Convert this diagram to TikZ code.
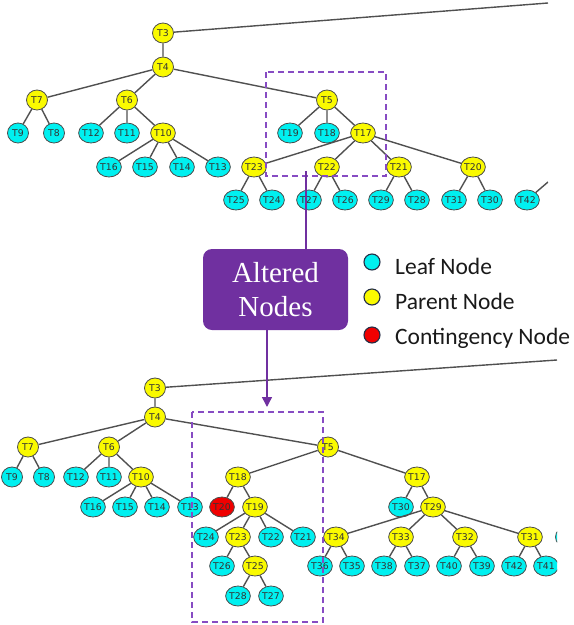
\documentclass[tikz,border=0pt]{standalone}
\usepackage{fontspec}
\usetikzlibrary{shapes.geometric,arrows.meta}
\newfontfamily\lblfont{DejaVu Sans}
\newfontfamily\legfont{Carlito}
\newfontfamily\boxfont{Liberation Serif}
\definecolor{leafc}{RGB}{0,240,240}
\definecolor{parc}{RGB}{250,250,0}
\definecolor{contc}{RGB}{240,0,0}
\definecolor{nodeline}{RGB}{75,75,75}
\definecolor{edgec}{RGB}{80,80,80}
\definecolor{dashc}{RGB}{135,75,195}
\definecolor{boxc}{RGB}{112,48,160}
\definecolor{legline}{RGB}{35,45,70}
\tikzset{
  tn/.style={ellipse,draw=nodeline,line width=0.8pt,minimum width=21pt,minimum height=20pt,
    inner sep=0pt,font=\lblfont\fontsize{9.3}{10}\selectfont,text=black!80},
  leaf/.style={tn,fill=leafc},
  par/.style={tn,fill=parc},
  cont/.style={tn,fill=contc},
  edge/.style={draw=edgec,line width=1.4pt},
  altbox/.style={dashc,line width=1.5pt,dash pattern=on 6pt off 4pt},
  legdot/.style={circle,draw=legline,line width=1.1pt,minimum size=16pt,inner sep=0pt},
  legtxt/.style={anchor=west,inner sep=0pt,text=black!90,font=\legfont\fontsize{23.5}{28}\selectfont},
  link/.style={draw=boxc,line width=1.5pt}
}
\begin{document}
\begin{tikzpicture}[x=1pt,y=-1pt]
\useasboundingbox (0,0) rectangle (574,625);

% ---------------- upper tree ----------------
\begin{scope}
\clip (0,0) rectangle (548,625);
\node[par]  (a3)  at (163,33)  {T3};
\node[par]  (a4)  at (163,67)  {T4};
\node[par]  (a7)  at (37,100)  {T7};
\node[par]  (a6)  at (127,100) {T6};
\node[par]  (a5)  at (327,100) {T5};
\node[leaf] (a9)  at (18,133)  {T9};
\node[leaf] (a8)  at (54,133)  {T8};
\node[leaf] (a12) at (91,133)  {T12};
\node[leaf] (a11) at (127,133) {T11};
\node[par]  (a10) at (163,133) {T10};
\node[leaf] (a19) at (290,133) {T19};
\node[leaf] (a18) at (327,133) {T18};
\node[par]  (a17) at (363,133) {T17};
\node[leaf] (a16) at (109,167) {T16};
\node[leaf] (a15) at (145,167) {T15};
\node[leaf] (a14) at (182,167) {T14};
\node[leaf] (a13) at (218,167) {T13};
\node[par]  (a23) at (254,167) {T23};
\node[par]  (a22) at (327,167) {T22};
\node[par]  (a21) at (399,167) {T21};
\node[par]  (a20) at (473,167) {T20};
\node[leaf] (a25) at (236,200) {T25};
\node[leaf] (a24) at (272,200) {T24};
\node[leaf] (a27) at (309,200) {T27};
\node[leaf] (a26) at (345,200) {T26};
\node[leaf] (a29) at (381,200) {T29};
\node[leaf] (a28) at (417,200) {T28};
\node[leaf] (a31) at (454,200) {T31};
\node[leaf] (a30) at (490,200) {T30};
\node[leaf] (a42) at (527,200) {T42};
\coordinate (a3out)  at (548,3);
\coordinate (a42out) at (548,182);
\draw[edge] (a3)--(a4) (a3)--(a3out);
\draw[edge] (a4)--(a7) (a4)--(a6) (a4)--(a5);
\draw[edge] (a7)--(a9) (a7)--(a8);
\draw[edge] (a6)--(a12) (a6)--(a11) (a6)--(a10);
\draw[edge] (a10)--(a16) (a10)--(a15) (a10)--(a14) (a10)--(a13);
\draw[edge] (a5)--(a19) (a5)--(a18) (a5)--(a17);
\draw[edge] (a17)--(a23) (a17)--(a22) (a17)--(a21) (a17)--(a20);
\draw[edge] (a23)--(a25) (a23)--(a24);
\draw[edge] (a22)--(a27) (a22)--(a26);
\draw[edge] (a21)--(a29) (a21)--(a28);
\draw[edge] (a20)--(a31) (a20)--(a30);
\draw[edge] (a42)--(a42out);
\end{scope}
\draw[altbox] (266,72) rectangle (386,176);

% ---------------- lower tree ----------------
\begin{scope}
\clip (0,0) rectangle (557,625);
\node[par]  (b3)  at (155,388) {T3};
\node[par]  (b4)  at (155,417) {T4};
\node[par]  (b7)  at (28,447)  {T7};
\node[par]  (b6)  at (109,447) {T6};
\node[par]  (b5)  at (328,447) {T5};
\node[leaf] (b9)  at (12,477)  {T9};
\node[leaf] (b8)  at (44,477)  {T8};
\node[leaf] (b12) at (76,477)  {T12};
\node[leaf] (b11) at (109,477) {T11};
\node[par]  (b10) at (141,477) {T10};
\node[par]  (b18) at (238,477) {T18};
\node[par]  (b17) at (417,477) {T17};
\node[leaf] (b16) at (93,507)  {T16};
\node[leaf] (b15) at (125,507) {T15};
\node[leaf] (b14) at (157,507) {T14};
\node[leaf] (b13) at (190,507) {T13};
\node[cont] (b20) at (222,507) {T20};
\node[par]  (b19) at (255,507) {T19};
\node[leaf] (b30) at (401,507) {T30};
\node[par]  (b29) at (433,507) {T29};
\node[leaf] (b24) at (206,537) {T24};
\node[par]  (b23) at (238,537) {T23};
\node[leaf] (b22) at (271,537) {T22};
\node[leaf] (b21) at (303,537) {T21};
\node[par]  (b34) at (336,537) {T34};
\node[par]  (b33) at (401,537) {T33};
\node[par]  (b32) at (465,537) {T32};
\node[par]  (b31) at (530,537) {T31};
\node[leaf] (bcut) at (566,537) {};
\node[leaf] (b26) at (222,566) {T26};
\node[par]  (b25) at (255,566) {T25};
\node[leaf] (b36) at (320,566) {T36};
\node[leaf] (b35) at (352,566) {T35};
\node[leaf] (b38) at (384,566) {T38};
\node[leaf] (b37) at (417,566) {T37};
\node[leaf] (b40) at (449,566) {T40};
\node[leaf] (b39) at (482,566) {T39};
\node[leaf] (b42) at (514,566) {T42};
\node[leaf] (b41) at (546,566) {T41};
\node[leaf] (b28) at (238,596) {T28};
\node[leaf] (b27) at (271,596) {T27};
\coordinate (b3out) at (557,360);
\draw[edge] (b3)--(b4) (b3)--(b3out);
\draw[edge] (b4)--(b7) (b4)--(b6) (b4)--(b5);
\draw[edge] (b7)--(b9) (b7)--(b8);
\draw[edge] (b6)--(b12) (b6)--(b11) (b6)--(b10);
\draw[edge] (b10)--(b16) (b10)--(b15) (b10)--(b14) (b10)--(b13);
\draw[edge] (b5)--(b18) (b5)--(b17);
\draw[edge] (b18)--(b20) (b18)--(b19);
\draw[edge] (b19)--(b24) (b19)--(b23) (b19)--(b22) (b19)--(b21);
\draw[edge] (b23)--(b26) (b23)--(b25);
\draw[edge] (b25)--(b28) (b25)--(b27);
\draw[edge] (b17)--(b30) (b17)--(b29);
\draw[edge] (b29)--(b34) (b29)--(b33) (b29)--(b32) (b29)--(b31);
\draw[edge] (b34)--(b36) (b34)--(b35);
\draw[edge] (b33)--(b38) (b33)--(b37);
\draw[edge] (b32)--(b40) (b32)--(b39);
\draw[edge] (b31)--(b42) (b31)--(b41);
\end{scope}
\draw[altbox] (192,412) rectangle (323,622);

% ---------------- label box and links ----------------
\node[rectangle,rounded corners=9pt,fill=boxc,minimum width=145pt,minimum height=81pt,
  align=center,text=white,font=\boxfont\fontsize{29}{34}\selectfont] (alt) at (275.5,289.5)
  {Altered\\Nodes};
\coordinate (linkstart) at (306,171);
\coordinate (arrowtip) at (267,407);
\draw[link] (linkstart) -- (linkstart |- alt.north);
\draw[link,-{Triangle[width=10pt,length=10pt]}] (arrowtip |- alt.south) -- (arrowtip);

% ---------------- legend ----------------
\node[legdot,fill=leafc] (lg1) at (372,262) {};
\node[legdot,fill=parc]  (lg2) at (372,297) {};
\node[legdot,fill=contc] (lg3) at (372,335) {};
\node[legtxt] (lt1) at (395,266) {Leaf Node};
\node[legtxt] (lt2) at (395,301) {Parent Node};
\node[legtxt] (lt3) at (395,338) {Contingency Node};
\end{tikzpicture}
\end{document}
